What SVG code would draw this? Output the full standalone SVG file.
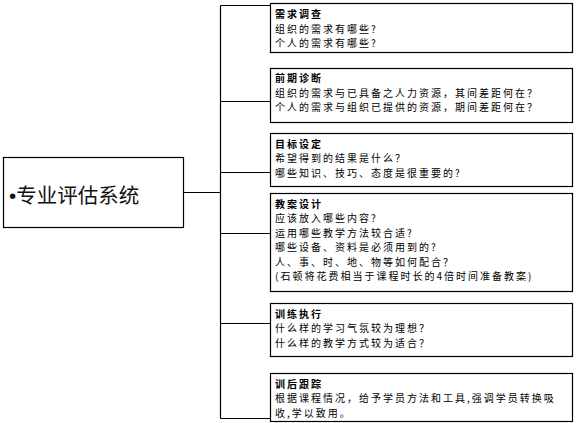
<svg xmlns="http://www.w3.org/2000/svg" width="576" height="423" viewBox="0 0 576 423">
<style>
.box{fill:#fff;stroke:#000;stroke-width:1.2}
.ln{fill:none;stroke:#000;stroke-width:1.2}
text{font-family:"Noto Sans CJK SC","Noto Sans",sans-serif;fill:#000}
.t{font-size:10px;font-weight:bold;letter-spacing:2px}
.b{font-size:10px;letter-spacing:2px}
.c{font-size:20.5px;fill:#111}
.d{font-family:"Liberation Sans",sans-serif}
</style>
<rect width="576" height="423" fill="#fff"/>
<g id="connectors">
<path class="ln" d="M183.5,192.5H220.5M220.5,5.5V418.5M220.5,5.5H270M220.5,101.5H270M220.5,172.5H270M220.5,233.5H270M220.5,323.5H270M220.5,418.5H270"/>
</g>
<g id="root">
<rect class="box" x="3.5" y="157.5" width="180" height="70"/>
<text class="c" x="9" y="203"><tspan class="d">•</tspan>专业评估系统</text>
</g>
<g id="n1">
<rect class="box" x="270.5" y="3.5" width="302" height="49"/>
<text class="t" x="275" y="18">需求调查</text>
<text class="b" x="275" y="32.5">组织的需求有哪些?</text>
<text class="b" x="275" y="47">个人的需求有哪些?</text>
</g>
<g id="n2">
<rect class="box" x="270.5" y="68.5" width="302" height="54"/>
<text class="t" x="275" y="82">前期诊断</text>
<text class="b" x="275" y="96.5">组织的需求与已具备之人力资源，其间差距何在？</text>
<text class="b" x="275" y="111">个人的需求与组织已提供的资源，期间差距何在？</text>
</g>
<g id="n3">
<rect class="box" x="270.5" y="133.5" width="302" height="53"/>
<text class="t" x="275" y="147.5">目标设定</text>
<text class="b" x="275" y="162">希望得到的结果是什么？</text>
<text class="b" x="275" y="176.5">哪些知识、技巧、态度是很重要的?</text>
</g>
<g id="n4">
<rect class="box" x="270.5" y="193.5" width="302" height="98"/>
<text class="t" x="275" y="207.5">教案设计</text>
<text class="b" x="275" y="222">应该放入哪些内容?</text>
<text class="b" x="275" y="236.5">运用哪些教学方法较合适?</text>
<text class="b" x="275" y="251">哪些设备、资料是必须用到的?</text>
<text class="b" x="275" y="265.5">人、事、时、地、物等如何配合？</text>
<text class="b" x="275" y="280">(石顿将花费相当于课程时长的4倍时间准备教案)</text>
</g>
<g id="n5">
<rect class="box" x="270.5" y="303.5" width="302" height="53"/>
<text class="t" x="275" y="317.5">训练执行</text>
<text class="b" x="275" y="332">什么样的学习气氛较为理想？</text>
<text class="b" x="275" y="346.5">什么样的教学方式较为适合？</text>
</g>
<g id="n6">
<rect class="box" x="270.5" y="373.5" width="302" height="48"/>
<text class="t" x="275" y="387.5">训后跟踪</text>
<text class="b" x="275" y="402">根据课程情况，给予学员方法和工具,强调学员转换吸</text>
<text class="b" x="275" y="416.5">收,学以致用。</text>
</g>
</svg>
